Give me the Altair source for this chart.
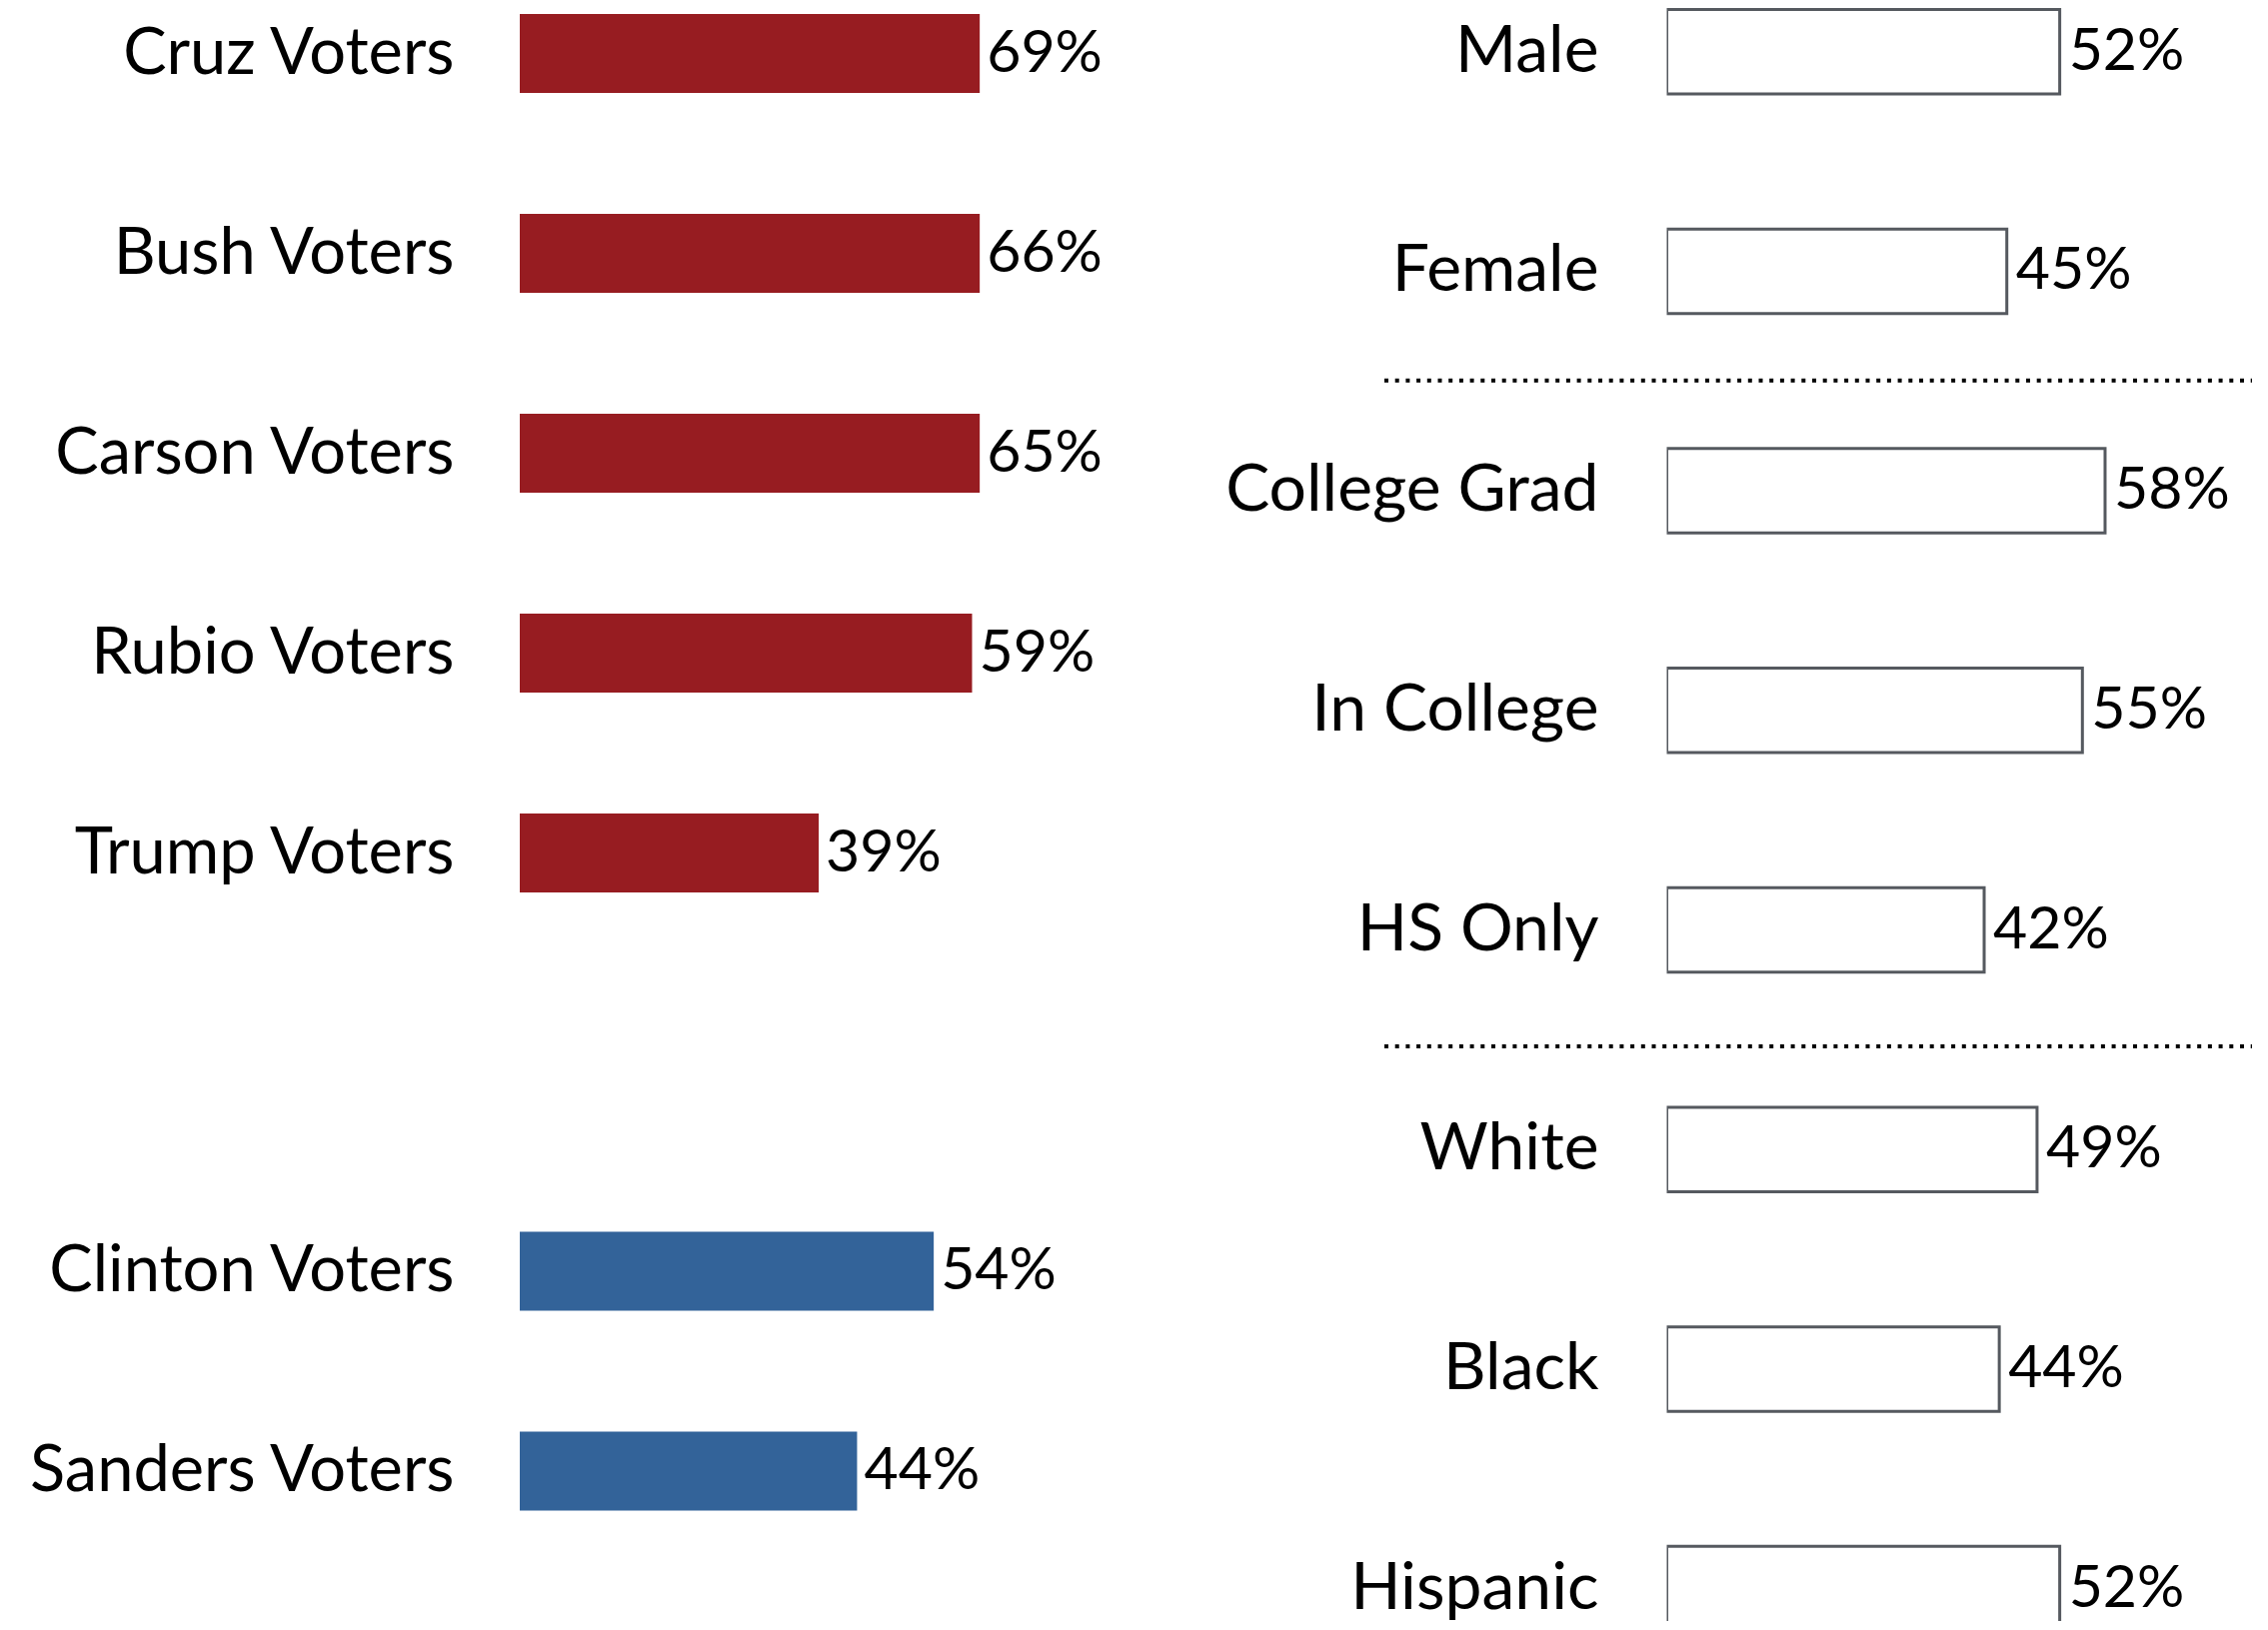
import altair as alt
import pandas as pd

# ---- data ----
rep_names = ["Cruz Voters", "Bush Voters", "Carson Voters", "Rubio Voters", "Trump Voters"]
rep_values = [69, 66, 65, 59, 39]
dem_names = ["Clinton Voters", "Sanders Voters"]
dem_values = [54, 44]
group_names = ["Male", "Female", "College Grad", "In College", "HS Only", "White", "Black", "Hispanic"]
group_values = [52, 45, 58, 55, 42, 49, 44, 52]
bar_cap = 60                                  # left-hand bars are drawn only up to 60%

FONT = "Lato"
RED = "#971c21"
BLUE = "#336399"


def party_panel(names, values, color):
    df = pd.DataFrame({"name": names, "value": values})
    base = alt.Chart(df).transform_calculate(
        shown=f"min(datum.value, {bar_cap})",
        label="datum.value + '%'",
    )
    y = alt.Y(
        "name:N", sort=names, title=None,
        scale=alt.Scale(paddingInner=0.605, paddingOuter=0.03),
        axis=alt.Axis(labelFont=FONT, labelFontSize=65, labelColor="black",
                      labelPadding=66, ticks=False, domain=False, grid=False,
                      labelLimit=1000, minExtent=512, maxExtent=512),
    )
    x = alt.X("shown:Q", scale=alt.Scale(domain=[0, 76.8], nice=False, zero=True), axis=None)
    bars = base.mark_bar(color=color).encode(x=x, y=y)
    text = base.mark_text(align="left", baseline="middle", dx=7, font=FONT,
                          fontSize=59, color="black").encode(
        x=x, y=alt.Y("name:N", sort=names), text="label:N")
    return alt.layer(bars, text).properties(width=589, height=alt.Step(200))


rep = party_panel(rep_names, rep_values, RED)
dem = party_panel(dem_names, dem_values, BLUE)
left = alt.vconcat(rep, dem, spacing=327.5)

gdf = pd.DataFrame({"group": group_names, "value": group_values})

y_scale = alt.Scale(paddingInner=0.6154, paddingOuter=0.0066, range=[0, 1625.3])
yr = alt.Y(
    "group:N", sort=group_names, title=None, scale=y_scale,
    axis=alt.Axis(labelFont=FONT, labelFontSize=66, labelColor="black",
                  labelPadding=68.5, ticks=False, domain=False, grid=False,
                  labelLimit=1000, minExtent=460, maxExtent=460),
)
xr = alt.X("value:Q", scale=alt.Scale(domain=[0, 78.04], nice=False), axis=None)

gbase = alt.Chart(gdf).transform_calculate(label="datum.value + '%'")
gbars = gbase.mark_bar(fill="white", stroke="#55595f", strokeWidth=3, clip=True).encode(x=xr, y=yr)
gtext = gbase.mark_text(align="left", baseline="middle", dx=9, font=FONT, fontSize=59,
                        color="black", clip=True).encode(
    x=xr, y=alt.Y("group:N", sort=group_names), text="label:N")


def divider(before_row, offset):
    # dotted separator drawn in the gap just above `before_row`
    return alt.Chart(pd.DataFrame({"group": [before_row]})).mark_rule(
        color="black", strokeWidth=4, strokeDash=[4, 6.7], yOffset=offset
    ).encode(
        y=alt.Y("group:N", sort=group_names, bandPosition=0),
        x=alt.value(-282.5), x2=alt.value(585.5))


right = alt.layer(
    gbars, gtext, divider("College Grad", -68), divider("White", -61)
).properties(width=590, height=1614)

chart = alt.hconcat(left, right, spacing=98.5).properties(padding=0).configure_view(
    stroke="transparent", strokeWidth=0
)

chart.save("out.html", embed_options={"renderer": "svg", "actions": False})
